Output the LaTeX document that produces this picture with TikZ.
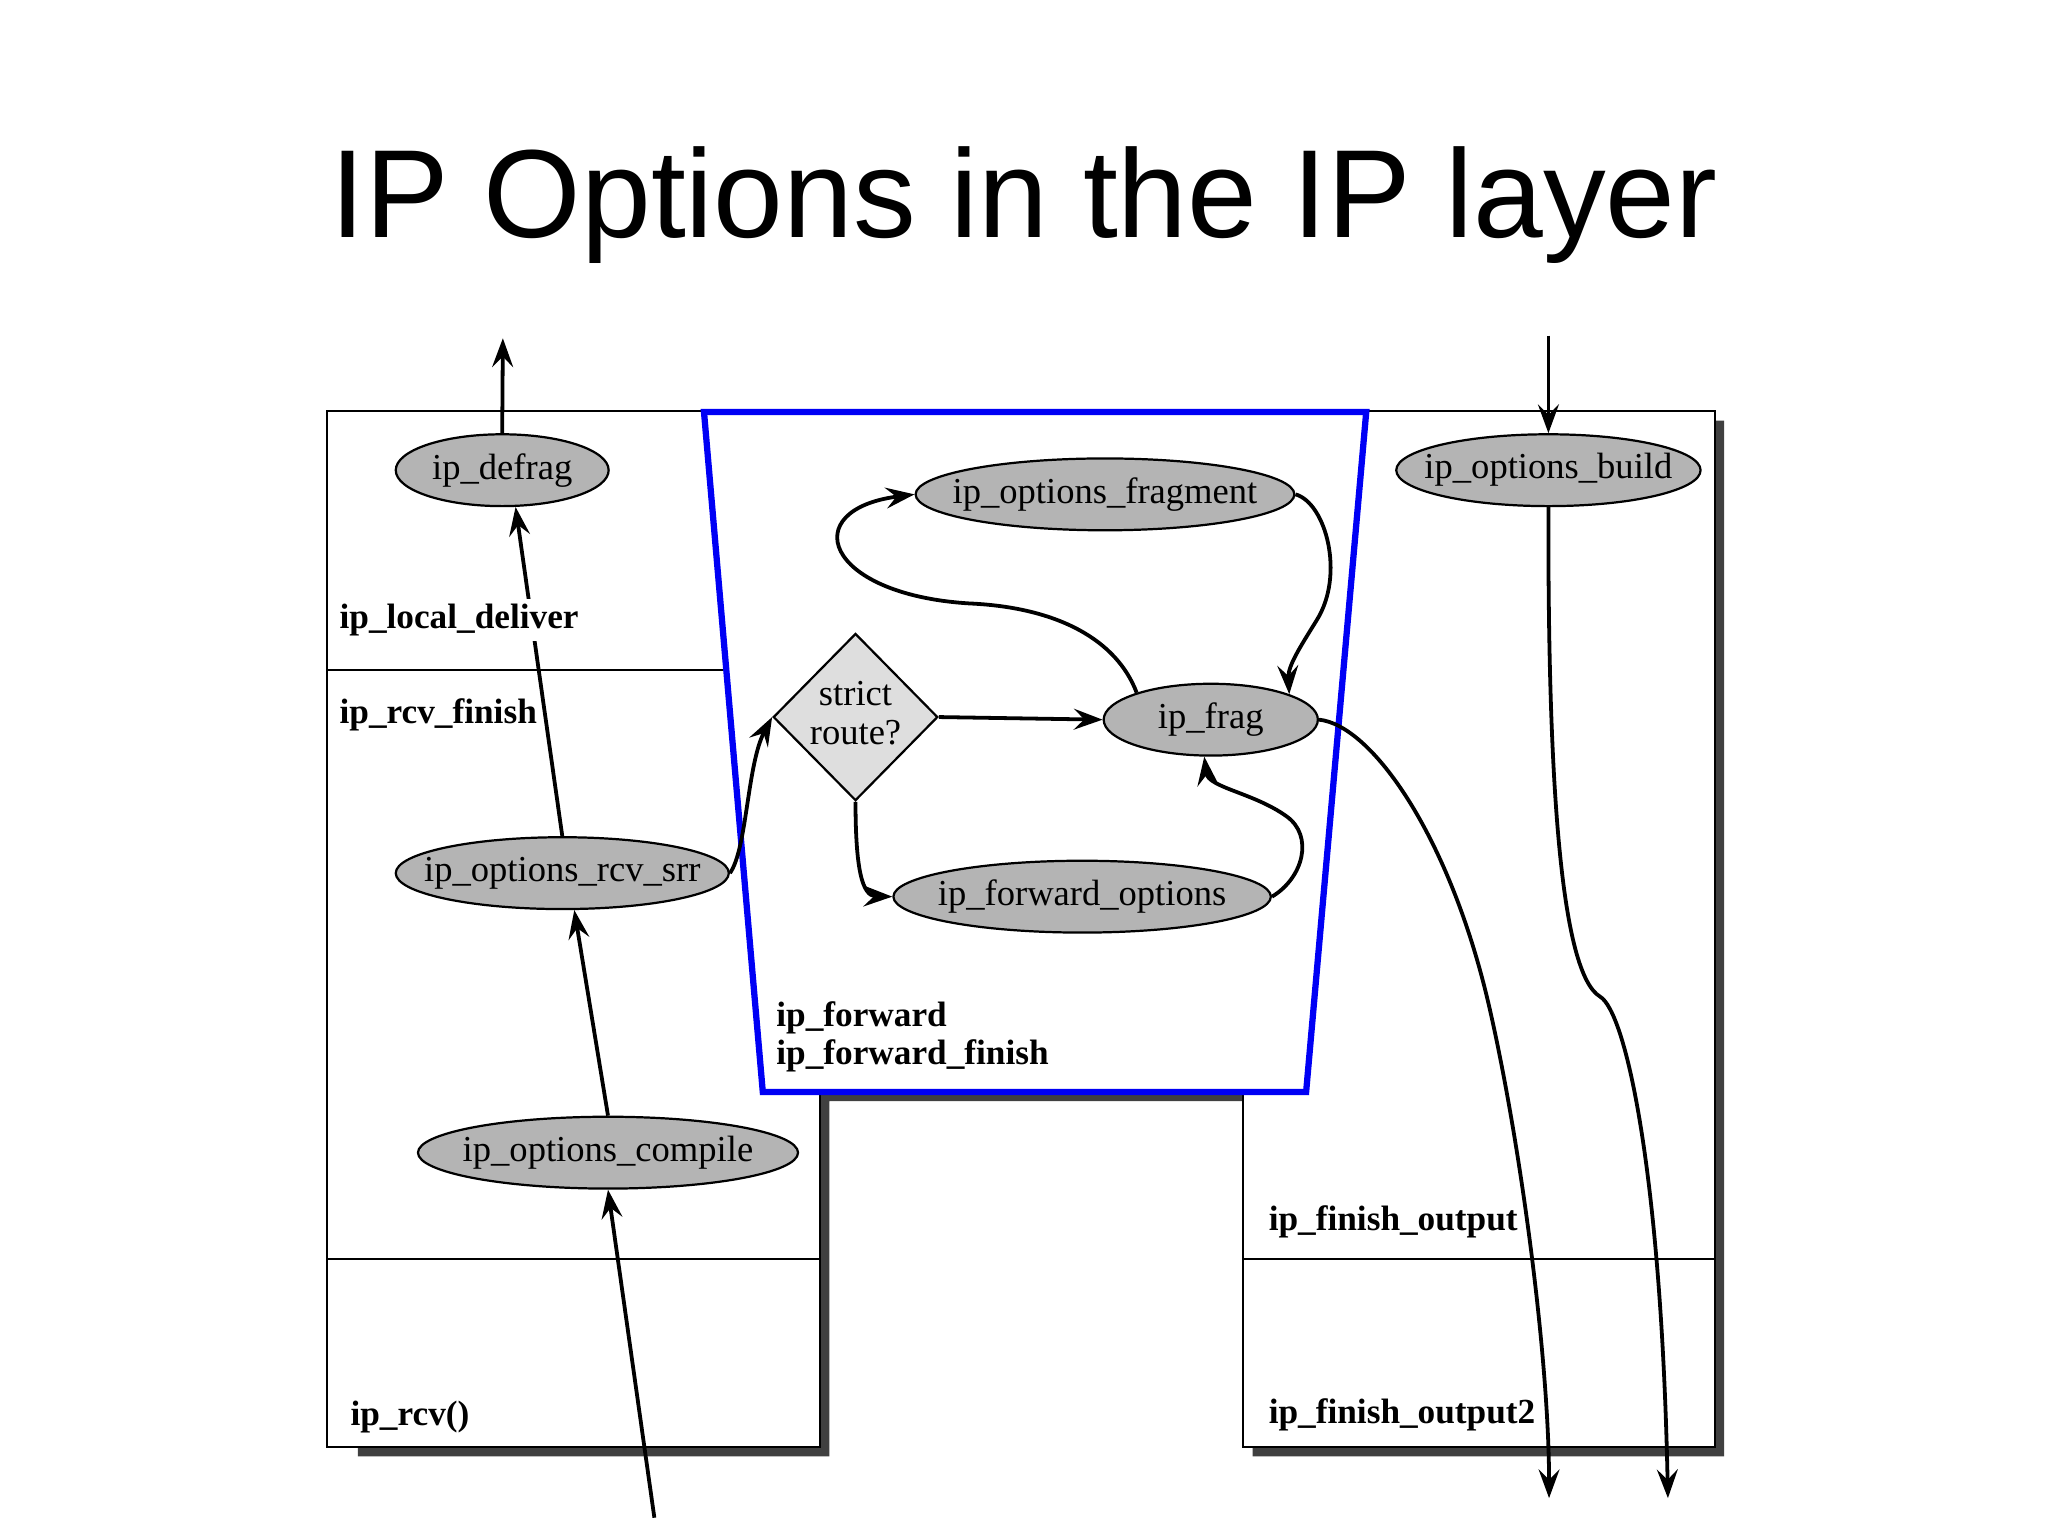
\documentclass[tikz,border=0pt]{standalone}
\usepackage{fontspec}
\setmainfont{Liberation Serif}
\newfontfamily\titlefont{Liberation Sans}
\usetikzlibrary{shapes.geometric,arrows.meta}
\definecolor{ellfill}{RGB}{180,180,180}
\definecolor{diafill}{RGB}{222,222,222}
\definecolor{shadowc}{RGB}{64,64,64}
\definecolor{trapblue}{RGB}{0,0,245}
\begin{document}
\begin{tikzpicture}[x=0.5pt,y=-0.5pt,
  fn/.style={ellipse,draw=black,line width=0.85pt,fill=ellfill,inner sep=0pt,minimum height=27.5pt,font=\fontsize{14}{16}\selectfont},
  dia/.style={diamond,draw=black,line width=0.85pt,fill=diafill,inner sep=0pt,minimum width=63pt,minimum height=64pt,font=\fontsize{14}{15}\selectfont},
  lbl/.style={anchor=west,inner sep=0pt,font=\fontsize{13.5}{15}\selectfont\bfseries},
  arr/.style={line width=1.45pt,-{Stealth[length=11pt,width=8pt,inset=4pt]}},
  frame/.style={line width=0.75pt,draw=black}]
\useasboundingbox[fill=white] (0,0) rectangle (1568,1176);

% title
\node[font=\titlefont\fontsize{48}{56}\selectfont,anchor=base,inner sep=0pt] (title) at (784,182) {IP Options in the IP layer};

% shadow and frame
\fill[shadowc] (274,322) -- (1320,322) -- (1320,1115) -- (959,1115) -- (959,843) -- (635,843) -- (635,1115) -- (274,1115) -- cycle;
\draw[frame,fill=white] (250,315) -- (1313,315) -- (1313,1108) -- (952,1108) -- (952,836) -- (628,836) -- (628,1108) -- (250,1108) -- cycle;
\draw[frame] (250,513) -- (560,513);
\draw[frame] (250,964) -- (628,964);
\draw[frame] (952,964) -- (1313,964);

% forward trapezoid
\draw[trapblue,line width=2.4pt,fill=white,line join=miter] (539,315.5) -- (1046,315.5) -- (1000,836) -- (584,836) -- cycle;

% nodes
\node[fn,minimum width=81.5pt] (defrag) at (384.5,360) {\makebox[0pt]{ip\_defrag}};
\node[fn,minimum width=145pt] (optfrag) at (846,378.5) {\makebox[0pt]{ip\_options\_fragment}};
\node[fn,minimum width=116.5pt] (build) at (1185.5,360) {\makebox[0pt]{ip\_options\_build}};
\node[fn,minimum width=82pt] (frag) at (927,551) {\makebox[0pt]{ip\_frag}};
\node[fn,minimum width=127.5pt] (srr) at (430.5,668.5) {\makebox[0pt]{ip\_options\_rcv\_srr}};
\node[fn,minimum width=144.5pt] (fwd) at (828.5,686.5) {\makebox[0pt]{ip\_forward\_options}};
\node[fn,minimum width=145.5pt] (compile) at (465.5,882.5) {\makebox[0pt]{ip\_options\_compile}};
\node[dia] (sr) at (655,549) {\makebox[0pt]{\begin{tabular}{@{}c@{}}strict\\route?\end{tabular}}};

% free ends
\coordinate (outtop) at (385,259);
\coordinate (intop) at (1185.5,257);
\coordinate (inbot) at (501,1162);
\coordinate (out1) at (1186,1147);
\coordinate (out2) at (1277,1147);

% connectors
\draw[arr] (defrag.north) -- (outtop);
\draw[arr] (srr.north) -- (defrag.-70);
\draw[arr] (compile.north) -- (srr.-72);
\draw[arr] (inbot) -- (compile.south);
\draw[arr] (srr.east) .. controls (572,650) and (572,585) .. (sr.west);
\draw[arr] (sr.east) -- (frag.west);
\draw[arr] (sr.south) .. controls (655,665) and (660,686) .. (fwd.west);
\draw[arr] (fwd.east) .. controls (998,672) and (1006,640) .. (985,625) .. controls (960,607) and (925,603) .. (frag.-100);
\draw[arr] (frag.160) .. controls (855,490) and (810,465) .. (742,462) .. controls (630,455) and (610,390) .. (optfrag.west);
\draw[arr] (optfrag.east) .. controls (1015,385) and (1030,440) .. (1008,475) .. controls (995,496) and (986,510) .. (frag.18);
\draw[arr] (frag.east) .. controls (1050,555) and (1110,640) .. (1140,770) .. controls (1164,874) and (1186,1040) .. (out1);
\draw[arr] (intop) -- (build.north);
\draw[arr] (build.south) .. controls (1185,600) and (1195,745) .. (1225,763) .. controls (1245,775) and (1272,900) .. (out2);

% labels
\node[lbl,fill=white,inner ysep=2pt] (ldeliver) at (259.6,474.7) {ip\_local\_deliver};
\node[lbl] (rcvfinish) at (259.6,547) {ip\_rcv\_finish};
\node[lbl] (fwdl) at (594,779) {ip\_forward};
\node[lbl] (fwdfin) at (594,808.6) {ip\_forward\_finish};
\node[lbl] (finout) at (971,935.6) {ip\_finish\_output};
\node[lbl] (finout2) at (971,1083) {ip\_finish\_output2};
\node[lbl] (rcv) at (268,1085) {ip\_rcv()};
\end{tikzpicture}
\end{document}
